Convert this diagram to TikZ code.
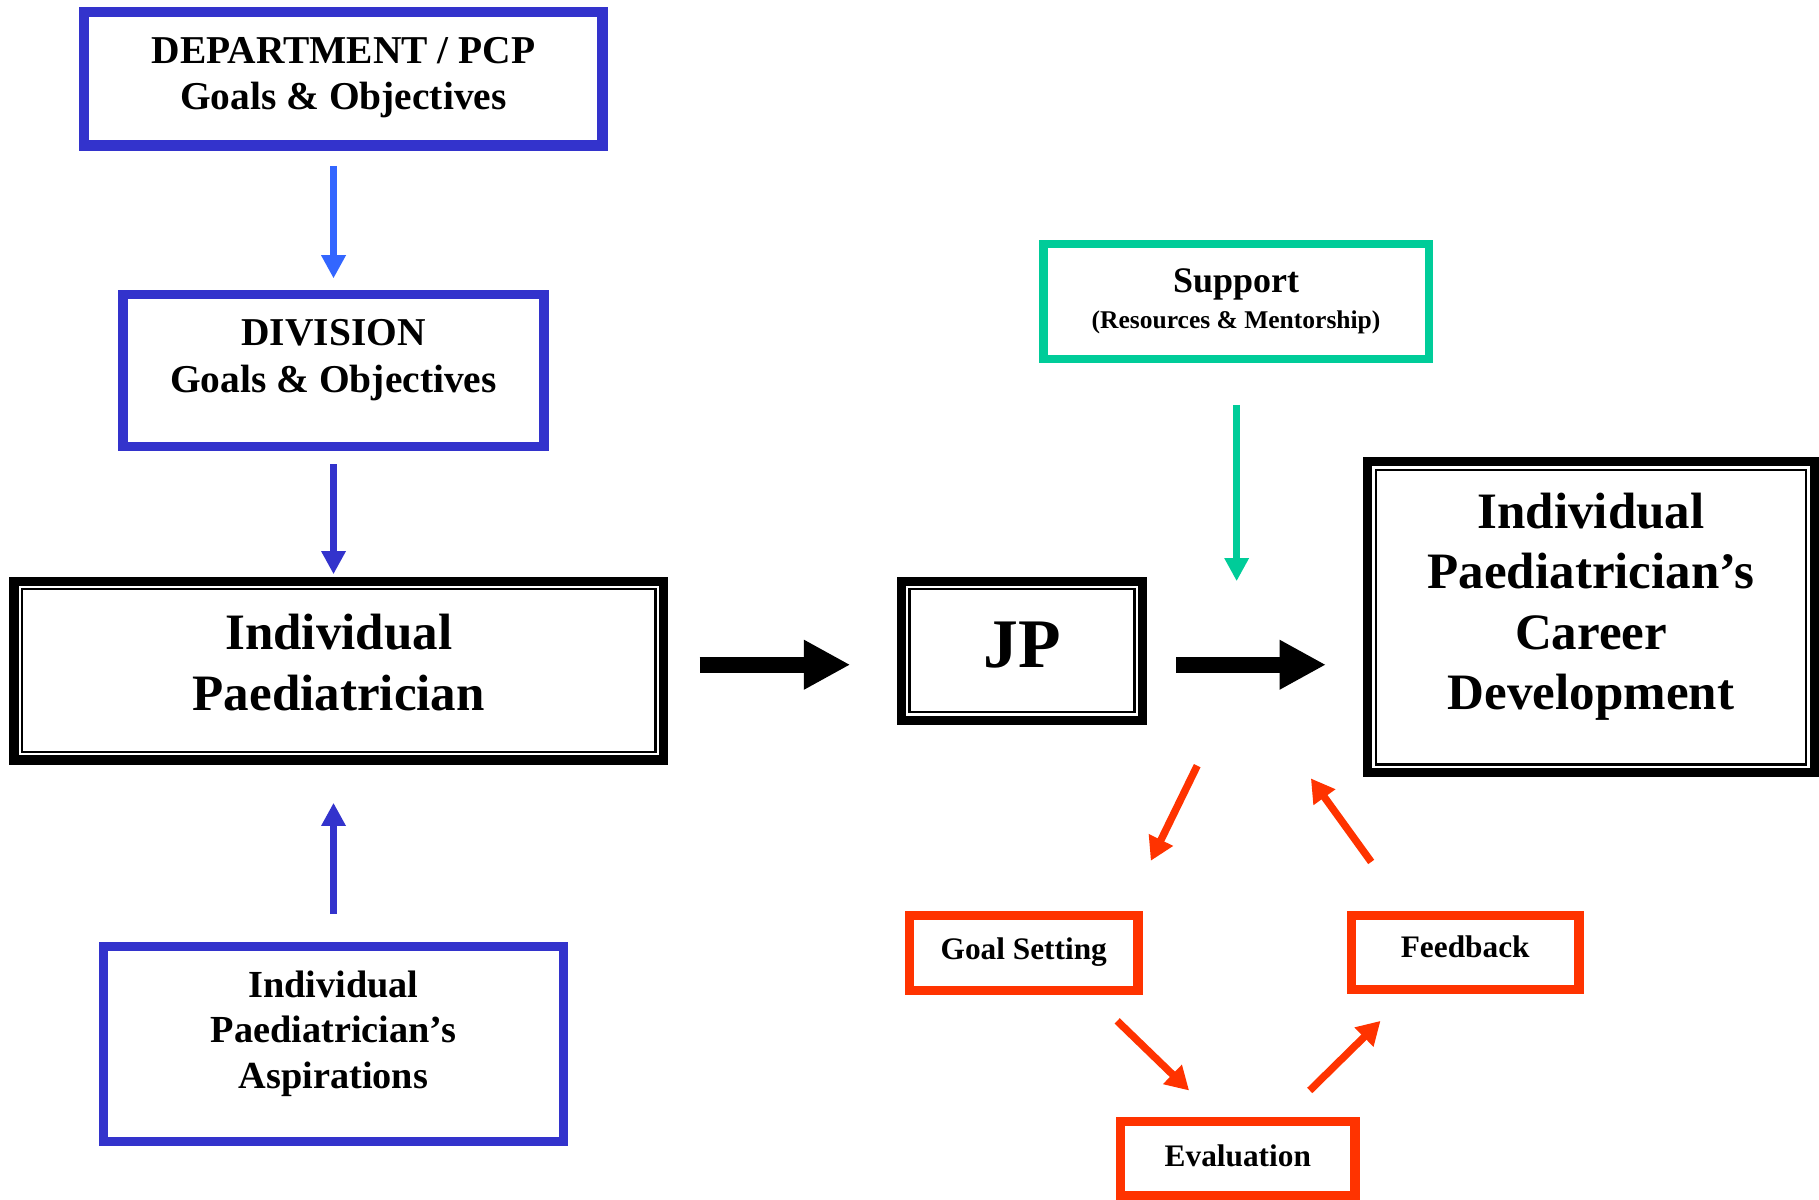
\documentclass[tikz,border=0pt]{standalone}
\usepackage{fontspec}
\setmainfont{Liberation Serif}
\usetikzlibrary{arrows.meta}
\definecolor{deptblue}{HTML}{3333CC}
\definecolor{arrowblue}{HTML}{3366FF}
\definecolor{supportgreen}{HTML}{00CC99}
\definecolor{loopred}{HTML}{FF3300}
\begin{document}
\begin{tikzpicture}[x=0.5pt,y=-0.5pt,font=\bfseries,
    box/.style={draw,outer sep=0pt,inner sep=0pt},
    boxtext/.style={align=center,inner sep=0pt},
    bluebox/.style={box,draw=deptblue,line width=4.5pt},
    blackbox/.style={box,draw=black,line width=4pt},
    redbox/.style={box,draw=loopred,line width=4pt},
    redtext/.style={boxtext,font=\bfseries\fontsize{13.5}{16}\selectfont},
    thinarrow/.style={line width=3pt,-{Triangle[width=10pt,length=10pt]}},
    bigarrow/.style={line width=7pt,-{Triangle[width=20pt,length=20pt]}},
    redarrow/.style={draw=loopred,line width=3.2pt,-{Triangle[width=11pt,length=10pt]}}]
    \useasboundingbox (0,0) rectangle (1568,1034);
    % left column
    \node[bluebox,minimum width=223.5pt,minimum height=57.5pt] (dept) at (296,68) {};
    \node[boxtext,font=\bfseries\fontsize{17}{20}\selectfont] (dept-text) at ([yshift=0.5pt]dept) {DEPARTMENT / PCP\\Goals \& Objectives};
    \node[bluebox,line width=4pt,minimum width=181.5pt,minimum height=65.5pt] (division) at (287.5,319.5) {};
    \node[boxtext,font=\bfseries\fontsize{17}{20}\selectfont] (division-text) at ([yshift=4.5pt]division) {DIVISION\\Goals \& Objectives};
    \node[blackbox,minimum width=280pt,minimum height=77pt] (ip) at (292,578) {};
    \node[boxtext,font=\bfseries\fontsize{22}{26}\selectfont] (ip-text) at ([yshift=3.5pt]ip) {Individual\\Paediatrician};
    \node[bluebox,line width=4pt,minimum width=198.5pt,minimum height=84pt] (asp) at (287.5,900) {};
    \node[boxtext,font=\bfseries\fontsize{16.5}{19.5}\selectfont] (asp-text) at ([yshift=4.5pt]asp) {Individual\\Paediatrician’s\\Aspirations};
    \draw[line width=1pt] ([shift={(3.5pt,-3.5pt)}]ip.north west) rectangle ([shift={(-3.5pt,3.5pt)}]ip.south east);
    \draw[thinarrow,arrowblue,shorten <=8.75pt,shorten >=7pt] (dept.south -| division.north) -- (division.north);
    \draw[thinarrow,deptblue,shorten <=7.5pt,shorten >=3pt] (division.south) -- (ip.north -| division.south);
    \draw[thinarrow,deptblue,shorten <=14pt,shorten >=18.5pt] (asp.north) -- (ip.south -| asp.north);
    % middle
    \node[blackbox,minimum width=104pt,minimum height=60pt] (jp) at (881,561) {};
    \node[boxtext,font=\bfseries\fontsize{30}{34}\selectfont] (jp-text) at ([yshift=2.5pt]jp) {JP};
    \draw[line width=1pt] ([shift={(3.5pt,-3.5pt)}]jp.north west) rectangle ([shift={(-3.5pt,3.5pt)}]jp.south east);
    \node[box,draw=supportgreen,line width=3.5pt,minimum width=166pt,minimum height=49.5pt] (support) at (1065.5,260) {};
    \node[boxtext,font=\bfseries\fontsize{15.5}{15.5}\selectfont] (support-text) at (support)
        {Support\\{\fontsize{11}{13}\selectfont (Resources \& Mentorship)}};
    \node[blackbox,minimum width=192.5pt,minimum height=134pt] (career) at (1371.5,532) {};
    \node[boxtext,font=\bfseries\fontsize{22}{26}\selectfont] (career-text) at ([yshift=4.5pt]career)
        {Individual\\Paediatrician’s\\Career\\Development};
    \draw[line width=1pt] ([shift={(3.5pt,-3.5pt)}]career.north west) rectangle ([shift={(-3.5pt,3.5pt)}]career.south east);
    \draw[bigarrow,shorten <=15.5pt,shorten >=22pt] ([yshift=2.5pt]ip.east) -- ([yshift=2.5pt]ip.east -| jp.west);
    \draw[bigarrow,shorten <=14.5pt,shorten >=18pt] ([yshift=-6pt]jp.east) -- ([yshift=-6pt]jp.east -| career.west);
    \draw[thinarrow,supportgreen,shorten <=19.75pt] ([xshift=0.25pt]support.south) -- ([xshift=0.25pt]support.south |- jp.north);
    % review loop
    \node[redbox,minimum width=98.5pt,minimum height=32.5pt] (goal) at (882.5,821.5) {};
    \node[redtext] (goal-text) at ([yshift=0.5pt]goal) {Goal Setting};
    \node[redbox,minimum width=98pt,minimum height=32pt] (feedback) at (1263,821) {};
    \node[redtext] (feedback-text) at ([yshift=2.5pt]feedback) {Feedback};
    \node[redbox,minimum width=101pt,minimum height=32pt] (eval) at (1067,999) {};
    \node[redtext] (eval-text) at ([yshift=1.5pt]eval) {Evaluation};
    \coordinate (loopA) at (1032,660);
    \coordinate (loopB) at (992,742);
    \coordinate (loopC) at (963,880);
    \coordinate (loopD) at (1025,940);
    \coordinate (loopE) at (1129,940);
    \coordinate (loopF) at (1190,880);
    \coordinate (loopG) at (1182,743);
    \coordinate (loopH) at (1130,671);
    \draw[redarrow] (loopA) -- (loopB);
    \draw[redarrow] (loopC) -- (loopD);
    \draw[redarrow] (loopE) -- (loopF);
    \draw[redarrow] (loopG) -- (loopH);
\end{tikzpicture}
\end{document}
